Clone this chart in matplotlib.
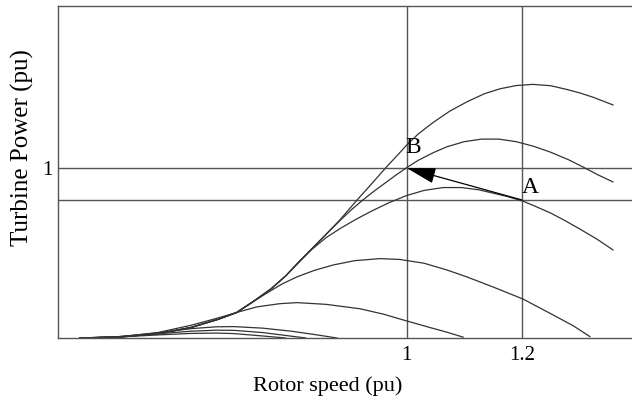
import matplotlib
matplotlib.use('Agg')
import matplotlib.pyplot as plt
import numpy as np

plt.rcParams['font.family'] = ['Liberation Serif', 'DejaVu Serif']

# rotor speed (pu) / turbine power (pu), one list pair per wind speed
x1 = [0.433, 0.50, 0.568, 0.626, 0.673, 0.705, 0.734, 0.765, 0.79, 0.815, 0.85, 0.884, 0.914,
      0.94, 0.962, 0.988, 1.0, 1.02, 1.046, 1.075, 1.105, 1.135, 1.162, 1.19, 1.219, 1.25,
      1.278, 1.30, 1.323, 1.358]
y1 = [0.0, 0.005, 0.025, 0.062, 0.11, 0.15, 0.215, 0.29, 0.365, 0.455, 0.575, 0.694, 0.812,
      0.91, 0.995, 1.09, 1.135, 1.2, 1.268, 1.335, 1.39, 1.437, 1.466, 1.485, 1.492, 1.484,
      1.462, 1.442, 1.417, 1.371]

x2 = [0.433, 0.50, 0.568, 0.626, 0.673, 0.705, 0.734, 0.765, 0.79, 0.815, 0.85, 0.884, 0.905,
      0.924, 0.94, 0.96, 0.98, 1.0, 1.02, 1.046, 1.07, 1.1, 1.13, 1.16, 1.19, 1.22, 1.249,
      1.28, 1.306, 1.33, 1.358]
y2 = [0.0, 0.005, 0.025, 0.062, 0.11, 0.15, 0.215, 0.29, 0.365, 0.455, 0.575, 0.69, 0.757,
      0.812, 0.855, 0.905, 0.955, 1.002, 1.045, 1.09, 1.125, 1.155, 1.17, 1.17, 1.155, 1.128,
      1.094, 1.05, 1.006, 0.963, 0.918]

x3 = [0.433, 0.50, 0.568, 0.626, 0.673, 0.705, 0.734, 0.765, 0.79, 0.815, 0.835, 0.86, 0.885,
      0.913, 0.94, 0.97, 1.0, 1.03, 1.063, 1.095, 1.125, 1.15, 1.175, 1.202, 1.225, 1.25,
      1.275, 1.30, 1.33, 1.358]
y3 = [0.0, 0.005, 0.025, 0.062, 0.11, 0.15, 0.215, 0.29, 0.365, 0.452, 0.52, 0.59, 0.645,
      0.70, 0.748, 0.797, 0.838, 0.868, 0.885, 0.885, 0.872, 0.852, 0.832, 0.805, 0.772, 0.735,
      0.69, 0.642, 0.582, 0.518]

x4 = [0.433, 0.50, 0.568, 0.626, 0.673, 0.705, 0.734, 0.765, 0.785, 0.81, 0.84, 0.873, 0.91,
      0.954, 0.988, 1.03, 1.07, 1.104, 1.15, 1.202, 1.26, 1.29, 1.318]
y4 = [0.0, 0.005, 0.025, 0.062, 0.11, 0.15, 0.215, 0.28, 0.32, 0.36, 0.398, 0.43, 0.455,
      0.467, 0.462, 0.44, 0.40, 0.36, 0.30, 0.229, 0.125, 0.07, 0.008]

x5 = [0.433, 0.50, 0.568, 0.626, 0.673, 0.705, 0.74, 0.78, 0.81, 0.86, 0.919, 0.96,
      0.988, 1.04, 1.07, 1.098]
y5 = [0.0, 0.006, 0.032, 0.075, 0.118, 0.15, 0.183, 0.202, 0.208, 0.198, 0.172, 0.14,
      0.112, 0.062, 0.034, 0.005]

x6 = [0.433, 0.50, 0.568, 0.626, 0.67, 0.70, 0.75, 0.80, 0.845, 0.879]
y6 = [0.0, 0.008, 0.03, 0.055, 0.066, 0.067, 0.058, 0.04, 0.018, 0.0]

x7 = [0.433, 0.50, 0.568, 0.626, 0.67, 0.70, 0.75, 0.79, 0.825]
y7 = [0.0, 0.008, 0.025, 0.04, 0.046, 0.045, 0.032, 0.015, 0.0]

x8 = [0.433, 0.50, 0.568, 0.626, 0.67, 0.70, 0.75, 0.79]
y8 = [0.0, 0.006, 0.018, 0.027, 0.029, 0.026, 0.012, 0.0]

curves = [(x1, y1), (x2, y2), (x3, y3), (x4, y4), (x5, y5), (x6, y6), (x7, y7), (x8, y8)]

point_a = (1.2, 0.812)
point_b = (1.0, 1.0)

fig = plt.figure(figsize=(6.32, 3.96), dpi=100)
ax = fig.add_axes([58 / 632, 58 / 396, 1 - 58 / 632, 332 / 396])

line_col = '#555555'
ax.axvline(1.0, color=line_col, lw=1.0)
ax.axvline(1.2, color=line_col, lw=1.0)
ax.axhline(point_b[1], color=line_col, lw=1.0)
ax.axhline(point_a[1], color=line_col, lw=1.0)

for xs, ys in curves:
    ax.plot(xs, ys, color='#333333', lw=0.9, solid_joinstyle='round')

ax.annotate('', xy=point_b, xytext=point_a,
            arrowprops=dict(arrowstyle='-|>,head_length=1.3,head_width=0.35',
                            color='black', lw=0.9, mutation_scale=14, shrinkA=0, shrinkB=0))
ax.text(1.214, 0.888, 'A', fontsize=17, ha='center', va='center')
ax.text(1.012, 1.12, 'B', fontsize=17, ha='center', va='center')

ax.set_xlim(0.395, 1.391)
ax.set_ylim(0, 1.953)
ax.set_xticks([1.0, 1.2])
ax.set_xticklabels(['1', '1.2'])
ax.set_yticks([1.0])
ax.set_yticklabels(['1'])
ax.tick_params(length=0, labelsize=15, pad=6)
ax.tick_params(axis='y', pad=4)

for s in ['left', 'bottom', 'top']:
    ax.spines[s].set_color(line_col)
    ax.spines[s].set_linewidth(1.0)
ax.spines['right'].set_visible(False)

ax.set_xlabel('Rotor speed (pu)', fontsize=16)
ax.xaxis.set_label_coords(0.469, -0.115)
ax.set_ylabel('Turbine Power (pu)', fontsize=18)
ax.yaxis.set_label_coords(-0.042, 0.575)

plt.savefig('out.png', dpi=100)
